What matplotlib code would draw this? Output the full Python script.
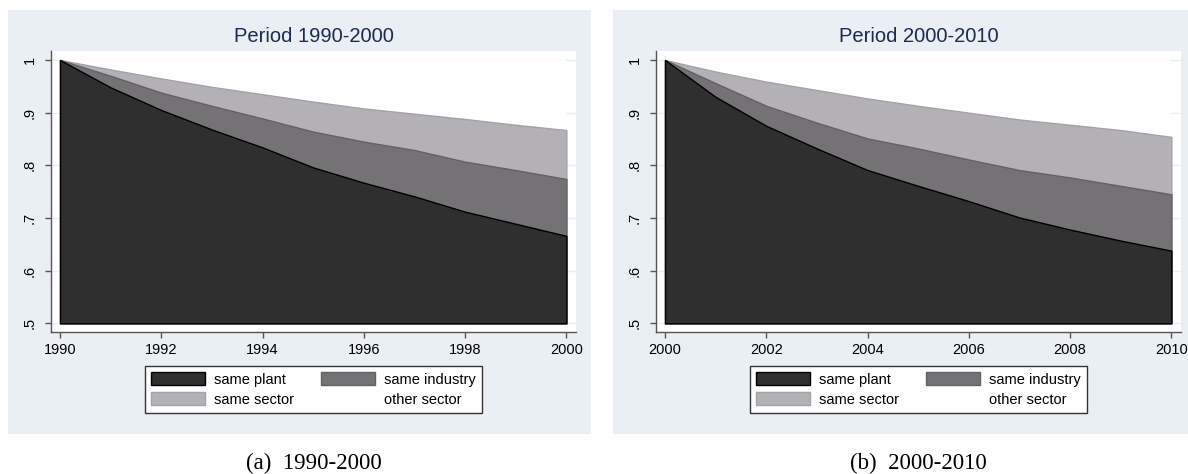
import matplotlib
matplotlib.use("Agg")
import matplotlib.pyplot as plt
from matplotlib.patches import Rectangle

plt.rcParams['font.family'] = ['Liberation Sans', 'DejaVu Sans']

# cumulative share still employed, stacked: plant <= industry <= sector
years_a = [1990, 1991, 1992, 1993, 1994, 1995, 1996, 1997, 1998, 1999, 2000]
plant_a = [1.0, 0.948, 0.905, 0.868, 0.834, 0.796, 0.767, 0.741, 0.712, 0.689, 0.666]
industry_a = [1.0, 0.970, 0.938, 0.913, 0.889, 0.864, 0.845, 0.829, 0.807, 0.791, 0.774]
sector_a = [1.0, 0.982, 0.965, 0.949, 0.935, 0.921, 0.908, 0.898, 0.888, 0.877, 0.867]

years_b = [2000, 2001, 2002, 2003, 2004, 2005, 2006, 2007, 2008, 2009, 2010]
plant_b = [1.0, 0.930, 0.875, 0.832, 0.791, 0.761, 0.732, 0.701, 0.678, 0.657, 0.638]
industry_b = [1.0, 0.956, 0.913, 0.881, 0.851, 0.832, 0.811, 0.791, 0.777, 0.761, 0.745]
sector_b = [1.0, 0.978, 0.959, 0.943, 0.927, 0.913, 0.900, 0.887, 0.877, 0.867, 0.854]

yticks = [0.5, 0.6, 0.7, 0.8, 0.9, 1.0]
ytick_labels = ['.5', '.6', '.7', '.8', '.9', '1']

W, H = 1188, 474
fig = plt.figure(figsize=(W / 100, H / 100), dpi=100)

def px_rect(x0, y0, x1, y1):
    # pixel box (top-left origin) -> figure fraction [left, bottom, width, height]
    return [x0 / W, 1 - y1 / H, (x1 - x0) / W, (y1 - y0) / H]

def panel(bg, box, years, plant, industry, sector, title, caption):
    b = px_rect(*bg)
    fig.patches.append(Rectangle((b[0], b[1]), b[2], b[3], transform=fig.transFigure,
                                 facecolor='#eaeff5', edgecolor='none', zorder=-1))
    ax = fig.add_axes(px_rect(*box))
    ax.set_facecolor('white')

    for y in yticks:
        ax.axhline(y, color='#e9eef3', lw=1, zorder=0)

    base = 0.5
    h_other = ax.fill_between(years, base, 1.0, facecolor='white', edgecolor='white', lw=0, zorder=1)
    h_sector = ax.fill_between(years, base, sector, facecolor='#b3b1b5', edgecolor='#a4a2a6', lw=1, zorder=2)
    h_ind = ax.fill_between(years, base, industry, facecolor='#747275', edgecolor='#636165', lw=1, zorder=3)
    h_plant = ax.fill_between(years, base, plant, facecolor='#2f2f2f', edgecolor='black', lw=1, zorder=4)

    span = years[-1] - years[0]
    ax.set_xlim(years[0] - 0.0178 * span, years[-1] + 0.019 * span)
    ax.set_ylim(0.4835, 1.0171)
    ax.set_xticks(years[::2])
    ax.set_yticks(yticks)
    ax.set_yticklabels(ytick_labels, rotation=90, va='center')

    for s in ['top', 'right']:
        ax.spines[s].set_visible(False)
    for s in ['left', 'bottom']:
        ax.spines[s].set_color('#555555')
        ax.spines[s].set_linewidth(1)
    ax.tick_params(direction='out', length=4, width=1, color='#555555', labelsize=10.5)
    ax.tick_params(axis='x', pad=4)
    ax.tick_params(axis='y', pad=6)

    cx = (box[0] + box[2]) / 2
    fig.text(cx / W, 1 - 37 / H, title, ha='center', va='center', fontsize=14.5, color='#1c2a4e')

    leg = ax.legend([h_plant, h_sector, h_ind, h_other],
                    ['same plant', 'same sector', 'same industry', 'other sector'],
                    loc='center', bbox_to_anchor=((cx) / W, 1 - 389.5 / H),
                    bbox_transform=fig.transFigure, ncol=2, fontsize=10.5,
                    frameon=True, fancybox=False, framealpha=1, edgecolor='#333333',
                    handlelength=3.75, handleheight=0.95, handletextpad=0.62,
                    columnspacing=1.8, labelspacing=0.4, borderpad=0.42, borderaxespad=0)
    leg.get_frame().set_linewidth(1)

    fig.text(cx / W, 1 - 463 / H, caption, ha='center', va='center', fontsize=16.5,
             family='Liberation Serif')
    return ax

panel((8, 10, 591, 434), (51, 51, 576, 332), years_a, plant_a, industry_a, sector_a,
      'Period 1990-2000', '(a)  1990-2000')
panel((613, 10, 1188, 434), (656, 51, 1181, 332), years_b, plant_b, industry_b, sector_b,
      'Period 2000-2010', '(b)  2000-2010')

fig.savefig('out.png', dpi=100, facecolor='white')
